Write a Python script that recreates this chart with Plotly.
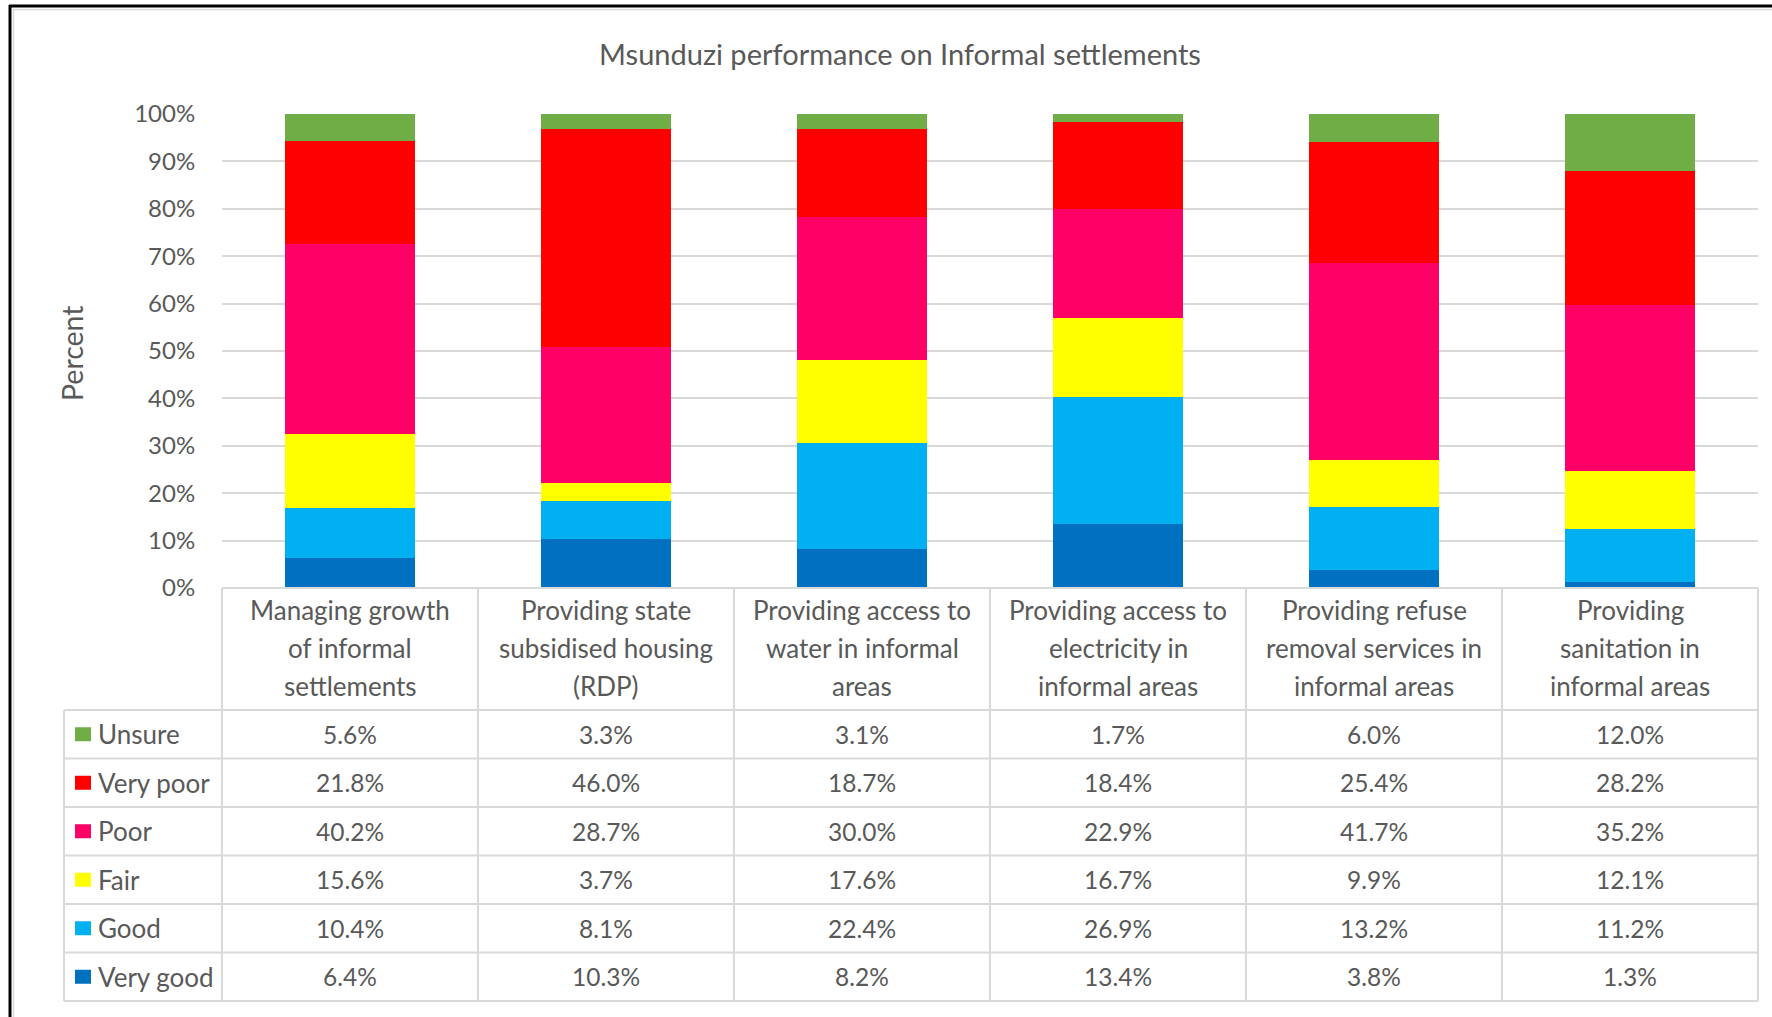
import plotly.graph_objects as go

# ---------------- data ----------------
categories = [
    "Managing growth<br>of informal<br>settlements",
    "Providing state<br>subsidised housing<br>(RDP)",
    "Providing access to<br>water in informal<br>areas",
    "Providing access to<br>electricity in<br>informal areas",
    "Providing refuse<br>removal services in<br>informal areas",
    "Providing<br>sanitation in<br>informal areas",
]
very_good = [6.4, 10.3, 8.2, 13.4, 3.8, 1.3]
good = [10.4, 8.1, 22.4, 26.9, 13.2, 11.2]
fair = [15.6, 3.7, 17.6, 16.7, 9.9, 12.1]
poor = [40.2, 28.7, 30.0, 22.9, 41.7, 35.2]
very_poor = [21.8, 46.0, 18.7, 18.4, 25.4, 28.2]
unsure = [5.6, 3.3, 3.1, 1.7, 6.0, 12.0]

series_names = ["Very good", "Good", "Fair", "Poor", "Very poor", "Unsure"]
series_values = [very_good, good, fair, poor, very_poor, unsure]
series_colors = ["#0070C0", "#00B0F0", "#FFFF00", "#FF0066", "#FF0000", "#70AD47"]
y_ticks = [0, 10, 20, 30, 40, 50, 60, 70, 80, 90, 100]
y_tick_labels = ["0%", "10%", "20%", "30%", "40%", "50%", "60%", "70%", "80%", "90%", "100%"]

# ---------------- layout geometry (pixels) ----------------
FW, FH = 1772, 1017
L, R, T, B = 222, 1758, 114, 588
W, H = R - L, B - T
FONT = "Lato, 'Open Sans', sans-serif"
TXT = "#595959"
GRID = "#d9d9d9"


def px(x):
    return (x - L) / W


def py(y):
    return (B - y) / H


fig = go.Figure()
for name, vals, col in zip(series_names, series_values, series_colors):
    fig.add_trace(go.Bar(
        x=categories, y=vals, name=name, marker_color=col,
        marker_line_width=0, width=0.508, showlegend=False,
    ))

shapes = []
annotations = []

# table geometry
header_bottom = 710
row_h = 48.5
rows_top = [header_bottom + i * row_h for i in range(7)]
legend_left = 64

# horizontal table lines
shapes.append(dict(type="line", xref="paper", yref="paper",
                   x0=0, x1=1, y0=py(B), y1=py(B),
                   line=dict(color=GRID, width=2)))
for yy in rows_top:
    shapes.append(dict(type="line", xref="paper", yref="paper",
                       x0=px(legend_left), x1=1, y0=py(yy), y1=py(yy),
                       line=dict(color=GRID, width=2)))
# vertical table lines
n = len(categories)
for k in range(n + 1):
    shapes.append(dict(type="line", xref="paper", yref="paper",
                       x0=k / n, x1=k / n, y0=py(B), y1=py(rows_top[-1]),
                       line=dict(color=GRID, width=2)))
shapes.append(dict(type="line", xref="paper", yref="paper",
                   x0=px(legend_left), x1=px(legend_left),
                   y0=py(header_bottom), y1=py(rows_top[-1]),
                   line=dict(color=GRID, width=2)))

# header text (category names)
header_lines_y = [610, 648, 686]
for cat in categories:
    for j, line in enumerate(cat.split("<br>")):
        annotations.append(dict(
            x=cat, xref="x", y=py(header_lines_y[j]), yref="paper",
            text=line, showarrow=False, xanchor="center", yanchor="middle",
            font=dict(family=FONT, size=26, color=TXT)))

# table rows: top to bottom Unsure..Very good
row_order = list(range(len(series_names)))[::-1]
for r, si in enumerate(row_order):
    yc = rows_top[r] + row_h / 2
    # legend key
    shapes.append(dict(type="rect", xref="paper", yref="paper",
                       x0=px(75), x1=px(91), y0=py(yc - 7), y1=py(yc + 7),
                       fillcolor=series_colors[si], line=dict(width=0)))
    annotations.append(dict(
        x=px(96), xref="paper", y=py(yc), yref="paper",
        text=series_names[si], showarrow=False, xanchor="left", yanchor="middle",
        font=dict(family=FONT, size=26, color=TXT)))
    for cat, v in zip(categories, series_values[si]):
        annotations.append(dict(
            x=cat, xref="x", y=py(yc), yref="paper",
            text=f"{v:.1f}%", showarrow=False, xanchor="center", yanchor="middle",
            font=dict(family=FONT, size=24.5, color=TXT)))

# y axis title
annotations.append(dict(
    x=px(72), xref="paper", y=py(353), yref="paper", text="Percent",
    textangle=-90, showarrow=False, xanchor="center", yanchor="middle",
    font=dict(family=FONT, size=28.5, color=TXT)))

# outer frame (light gray) and black border
shapes.append(dict(type="line", xref="paper", yref="paper",
                   x0=px(13), x1=px(1790), y0=py(9.5), y1=py(9.5),
                   line=dict(color=GRID, width=1.5)))
shapes.append(dict(type="line", xref="paper", yref="paper",
                   x0=px(13.5), x1=px(13.5), y0=py(9), y1=py(1030),
                   line=dict(color=GRID, width=1.5)))
shapes.append(dict(type="line", xref="paper", yref="paper",
                   x0=px(9), x1=px(1790), y0=py(6), y1=py(6),
                   line=dict(color="black", width=3)))
shapes.append(dict(type="line", xref="paper", yref="paper",
                   x0=px(10), x1=px(10), y0=py(5), y1=py(1030),
                   line=dict(color="black", width=3)))

fig.update_layout(
    width=FW, height=FH,
    margin=dict(l=L, r=FW - R, t=T, b=FH - B),
    paper_bgcolor="white", plot_bgcolor="white",
    barmode="stack",
    title=dict(text="Msunduzi performance on Informal settlements",
               xref="container", x=900 / FW, xanchor="center",
               yref="container", y=1 - 55 / FH, yanchor="middle",
               font=dict(family=FONT, size=29, color=TXT)),
    xaxis=dict(showticklabels=False, showgrid=False, zeroline=False,
               showline=False, range=[-0.5, n - 0.5], fixedrange=True),
    yaxis=dict(range=[0, 100], tickmode="array", tickvals=y_ticks,
               ticktext=y_tick_labels,
               showgrid=True, gridcolor=GRID, gridwidth=2, zeroline=False,
               showline=False, ticks="outside", ticklen=21,
               tickcolor="rgba(0,0,0,0)",
               tickfont=dict(family=FONT, size=24, color=TXT),
               fixedrange=True),
    shapes=shapes,
    annotations=annotations,
    font=dict(family=FONT, color=TXT),
)

fig.write_html(
    "out.html",
    config={"displayModeBar": False},
    post_script="document.body.style.margin='0px';document.body.style.overflow='hidden';",
)
